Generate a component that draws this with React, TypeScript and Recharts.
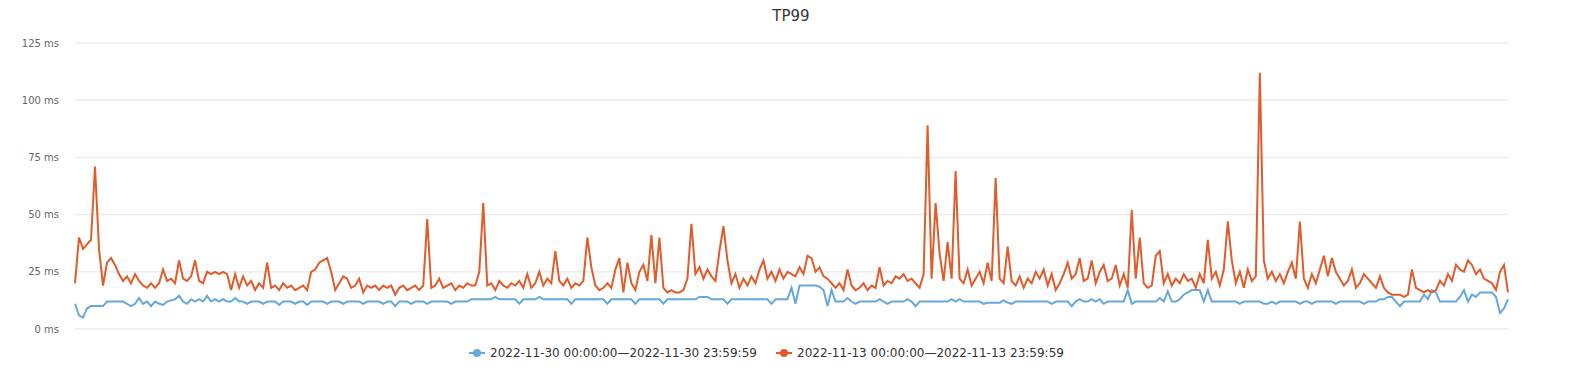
import { CartesianGrid, Line, LineChart, XAxis, YAxis } from "recharts";

// TP99 latency (ms), one sample every few minutes across the day
const NOV30_TP99 = [
  11, 6, 5, 9, 10, 10, 10, 10, 12, 12,
  12, 12, 12, 11, 10, 11, 13.5, 11, 12, 10,
  12, 11, 10.5, 12, 12.5, 13, 14.5, 12, 11, 13,
  12, 13, 12, 14.5, 12, 13, 12, 13, 12, 12,
  13.5, 12, 12, 11, 12, 12, 12, 11, 12, 12,
  12, 10.5, 12, 12, 12, 11, 12, 12, 10.5, 12,
  12, 12, 12, 11, 12, 12, 12, 11, 12, 12,
  12, 12, 11, 12, 12, 12, 12, 11, 12, 12,
  10, 12, 12, 12, 11, 12, 12, 12, 11, 12,
  12, 12, 12, 12, 11, 12, 12, 12, 12, 13,
  13, 13, 13, 13, 13, 14, 13, 13, 13, 13,
  13, 11, 13, 13, 13, 13, 14, 13, 13, 13,
  13, 13, 13, 13, 11, 13, 13, 13, 13, 13,
  13, 13, 13, 11, 13, 13, 13, 13, 13, 13,
  11, 13, 13, 13, 13, 13, 13, 11, 13, 13,
  13, 13, 13, 13, 13, 13, 14, 14, 14, 13,
  13, 13, 13, 11, 13, 13, 13, 13, 13, 13,
  13, 13, 13, 13, 11, 13, 13, 13, 13, 18,
  11, 19, 19, 19, 19, 19, 18.5, 17, 10, 17,
  12, 12, 12, 13.5, 12, 11, 12, 12, 12, 12,
  12, 13, 12, 11, 12, 12, 12, 12, 13, 12,
  10, 12, 12, 12, 12, 12, 12, 12, 12, 13,
  12, 13, 12, 12, 12, 12, 12, 11, 11.5, 11.5,
  11.5, 11.5, 12.5, 11.5, 11, 12, 12, 12, 12, 12,
  12, 12, 12, 12, 11, 12, 12, 12, 12, 10,
  12, 13, 12, 12, 13, 12, 13, 11, 12, 12,
  12, 12, 12, 17, 11, 12, 12, 12, 12, 12,
  12, 13.5, 12, 16.5, 12, 12, 13, 15, 16, 17,
  17, 17, 12, 17, 12, 12, 12, 12, 12, 12,
  12, 11, 12, 12, 12, 12, 12, 11, 11, 12,
  11, 12, 12, 12, 12, 12, 11, 12, 12, 11,
  12, 12, 12, 12, 12, 11, 12, 12, 12, 12,
  12, 12, 11, 12, 12, 12, 13, 13, 14, 14,
  12, 10, 12, 12, 12, 12, 12, 15, 13, 17,
  16, 12, 12, 12, 12, 12, 14, 17, 12, 15,
  14, 16, 16, 16, 16, 14, 7, 9, 13,
];

const NOV13_TP99 = [
  20, 40, 35, 37, 39, 71, 35, 19, 29, 31,
  28, 24, 21, 23, 20, 24, 21, 19, 18, 20,
  18, 20, 26, 21, 22, 20, 30, 22, 21, 23,
  30, 21, 20, 25, 24, 25, 24, 25, 24, 17,
  24, 18, 23, 19, 21, 17, 20, 18, 29, 18,
  19, 17, 20, 18, 19, 17, 18, 19, 17, 25,
  26, 29, 30, 31, 25, 17, 20, 23, 22, 18,
  19, 22, 16, 19, 18, 19, 17, 19, 18, 19,
  15, 18, 19, 17, 18, 19, 17, 19, 48, 18,
  19, 22, 18, 19, 20, 17, 19, 18, 20, 19,
  19, 25, 55, 19, 20, 17, 21, 19, 18, 20,
  19, 21, 18, 24, 18, 20, 25, 19, 22, 20,
  34, 21, 19, 22, 18, 20, 19, 21, 40, 27,
  19, 17, 18, 20, 18, 26, 31, 16, 29, 20,
  17, 25, 28, 21, 41, 20, 40, 18, 16, 17,
  16, 16, 17, 22, 46, 24, 27, 22, 26, 23,
  21, 34, 45, 30, 20, 24, 18, 22, 19, 23,
  20, 26, 30, 22, 25, 21, 26, 22, 25, 24,
  23, 27, 24, 32, 31, 25, 27, 23, 22, 20,
  18, 20, 17, 26, 19, 17, 18, 20, 17, 19,
  18, 27, 19, 21, 20, 23, 22, 24, 21, 22,
  20, 18, 24, 89, 22, 55, 33, 21, 38, 22,
  69, 22, 20, 26, 19, 22, 25, 20, 29, 21,
  66, 22, 20, 36, 21, 19, 23, 18, 22, 20,
  25, 22, 26, 19, 24, 17, 20, 24, 29, 22,
  24, 31, 21, 22, 30, 20, 25, 28, 21, 22,
  28, 19, 24, 18, 52, 22, 40, 20, 18, 19,
  32, 34, 20, 24, 19, 22, 20, 24, 21, 22,
  18, 24, 20, 39, 22, 25, 19, 26, 47, 30,
  20, 25, 18, 26, 21, 23, 112, 30, 22, 25,
  21, 24, 20, 25, 29, 22, 47, 22, 18, 24,
  20, 26, 32, 23, 31, 25, 22, 19, 21, 26,
  18, 20, 24, 22, 20, 18, 23, 18, 16, 15,
  15, 15, 14, 15, 26, 18, 17, 16, 17, 16,
  17, 21, 19, 24, 21, 28, 26, 25, 30, 28,
  24, 26, 22, 21, 20, 17, 25, 28, 16,
];

const Y_TICKS = [0, 25, 50, 75, 100, 125];

const SERIES = [
  { key: "nov30", name: "2022-11-30 00:00:00—2022-11-30 23:59:59", color: "#65a8da" },
  { key: "nov13", name: "2022-11-13 00:00:00—2022-11-13 23:59:59", color: "#e15b2b" },
];

const data = NOV13_TP99.map((v, i) => ({ idx: i, nov13: v, nov30: NOV30_TP99[i] }));

const FONT = '"DejaVu Sans", Verdana, sans-serif';

function LegendMarker({ color }: { color: string }) {
  return (
    <svg width={16} height={10} style={{ marginRight: 5 }}>
      <line x1={0} y1={5} x2={16} y2={5} stroke={color} strokeWidth={2} />
      <circle cx={8} cy={5} r={4} fill={color} />
    </svg>
  );
}

export default function App() {
  return (
    <div style={{ position: "relative", width: 1564, height: 376, fontFamily: FONT }}>
      <div
        style={{
          position: "absolute",
          left: 67,
          width: 1432,
          top: -1,
          textAlign: "center",
          fontSize: 15,
          color: "#333",
        }}
      >
        TP99
      </div>
      <LineChart width={1564} height={340} data={data} margin={{ top: 35, right: 64, bottom: 19, left: 7 }}>
        <CartesianGrid vertical={false} stroke="#ececec" strokeWidth={1.5} />
        <XAxis dataKey="idx" hide />
        <YAxis
          width={60}
          domain={[0, 125]}
          ticks={Y_TICKS}
          axisLine={false}
          tickLine={false}
          tickSize={0}
          tickMargin={16}
          tick={{ fill: "#666", fontSize: 10, fontFamily: FONT }}
          tickFormatter={(v: number) => `${v} ms`}
        />
        {SERIES.map((s) => (
          <Line
            key={s.key}
            type="linear"
            dataKey={s.key}
            name={s.name}
            stroke={s.color}
            strokeWidth={2}
            dot={false}
            isAnimationActive={false}
          />
        ))}
      </LineChart>
      <div style={{ position: "absolute", top: 338, left: 461, display: "flex", alignItems: "center", fontSize: 12, color: "#333" }}>
        <LegendMarker color={SERIES[0].color} />
        <span>{SERIES[0].name}</span>
      </div>
      <div style={{ position: "absolute", top: 338, left: 768, display: "flex", alignItems: "center", fontSize: 12, color: "#333" }}>
        <LegendMarker color={SERIES[1].color} />
        <span>{SERIES[1].name}</span>
      </div>
    </div>
  );
}
